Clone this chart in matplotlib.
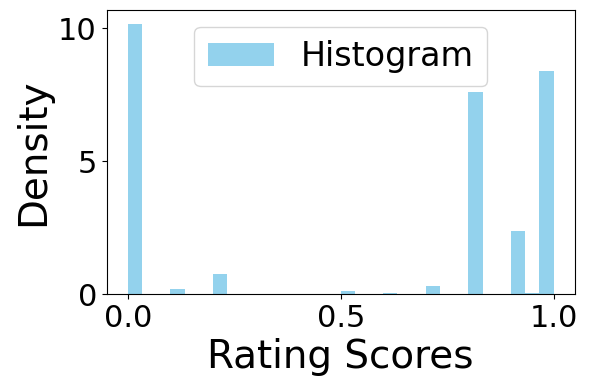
import numpy as np
import matplotlib
matplotlib.use("Agg")
import matplotlib.pyplot as plt

# rating scores observed and their density height (bins of width 1/30 on [0, 1])
scores = [0.0, 0.1, 0.2, 0.5, 0.6, 0.7, 0.8, 0.9, 0.95, 0.99]
density = [10.23, 0.19, 0.76, 0.11, 0.04, 0.30, 7.65, 2.39, 0.04, 8.45]

fig, ax = plt.subplots(figsize=(5.89, 3.90), dpi=100)
ax.hist(scores, bins=30, range=(0, 1), weights=density, density=True,
        color='skyblue', alpha=0.9, label='Histogram')

ax.set_xlabel('Rating Scores', fontsize=28)
ax.set_ylabel('Density', fontsize=28)
ax.tick_params(labelsize=22)
ax.set_xticks([0.0, 0.5, 1.0])
ax.set_yticks([0, 5, 10])
ax.legend(loc='upper center', fontsize=24)

plt.subplots_adjust(left=0.181, right=0.976, top=0.974, bottom=0.246)
plt.savefig('out.png')
